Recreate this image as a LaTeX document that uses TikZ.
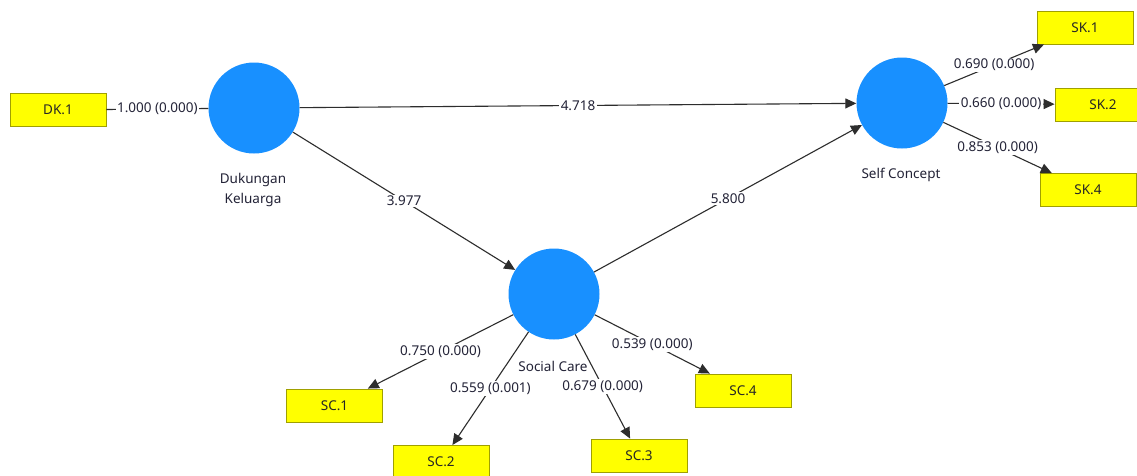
\documentclass[tikz,border=0pt]{standalone}
\usepackage{fontspec}
\setmainfont{Noto Sans}
\usetikzlibrary{arrows.meta}
\definecolor{lv}{RGB}{24,144,255}
\definecolor{ind}{RGB}{255,255,0}
\definecolor{indb}{RGB}{160,160,0}
\definecolor{ln}{RGB}{45,45,45}
\definecolor{tx}{RGB}{35,35,55}
\tikzset{
  latent/.style={circle,fill=lv,draw=none,minimum size=91pt,inner sep=0pt},
  indbox/.style={rectangle,fill=ind,draw=indb,line width=0.9pt,minimum width=96pt,minimum height=33pt,inner sep=0pt,text=black!85,font=\fontsize{13.5}{15}\selectfont},
  lvlabel/.style={align=center,text=tx,font=\fontsize{13.5}{19.5}\selectfont,inner sep=1pt},
  wlabel/.style={fill=white,text=tx,font=\fontsize{13.5}{15}\selectfont,inner sep=1.5pt},
  conn/.style={draw=ln,line width=1.1pt,-{Triangle[length=11pt,width=10pt]}},
  plain/.style={draw=ln,line width=1.1pt}
}
\begin{document}
\begin{tikzpicture}[x=1pt,y=-1pt]
\clip (0,0) rectangle (1137,475);
\fill[white] (0,0) rectangle (1137,475);
% latent variables
\node[latent] (dk) at (254,108) {};
\node[latent] (sk) at (902,103) {};
\node[latent] (sc) at (554,294) {};
\node[lvlabel] (dkl) at (253,190) {Dukungan\\Keluarga};
\node[lvlabel] (skl) at (901,175) {Self Concept};
% indicators
\node[indbox] (dk1) at (58,110) {DK.1};
\node[indbox] (sk1) at (1085,27.5) {SK.1};
\node[indbox] (sk2) at (1103,104.5) {SK.2};
\node[indbox] (sk4) at (1088,190) {SK.4};
\node[indbox] (sc1) at (334.5,405.5) {SC.1};
\node[indbox] (sc2) at (441,462) {SC.2};
\node[indbox] (sc3) at (639,455.5) {SC.3};
\node[indbox] (sc4) at (743,390.5) {SC.4};
% structural paths
\draw[conn] (dk) -- node[wlabel] {4.718} (sk);
\draw[conn] (dk) -- node[wlabel] {3.977} (sc);
\draw[conn] (sc) -- node[wlabel] {5.800} (sk);
% outer
\draw[plain] (dk1) -- node[wlabel] {1.000 (0.000)} (dk);
\draw[conn] (sk) -- node[wlabel] {0.690 (0.000)} (sk1);
\draw[conn] (sk) -- node[wlabel] {0.660 (0.000)} (sk2);
\draw[conn] (sk) -- node[wlabel] {0.853 (0.000)} (sk4);
\draw[conn] (sc) -- node[wlabel] {0.750 (0.000)} (sc1);
\draw[conn] (sc) -- node[wlabel] {0.559 (0.001)} (sc2);
\draw[conn] (sc) -- node[wlabel] {0.679 (0.000)} (sc3);
\draw[conn] (sc) -- node[wlabel] {0.539 (0.000)} (sc4);
\node[lvlabel,fill=white,inner sep=0.5pt] (scl) at (553,366) {Social Care};
\end{tikzpicture}
\end{document}
